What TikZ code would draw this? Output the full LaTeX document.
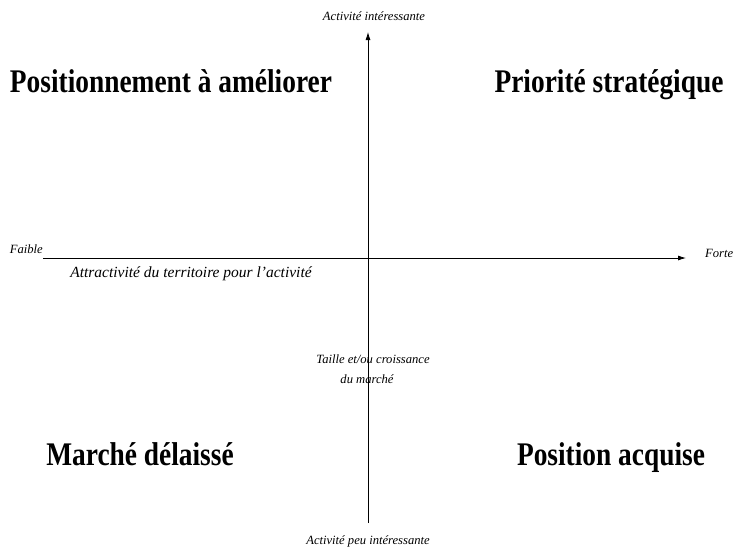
\documentclass[tikz,border=0pt]{standalone}
\usepackage{fontspec}
\setmainfont{Liberation Serif}
\newfontfamily\quadfont[FakeStretch=0.83]{Liberation Serif}
\usetikzlibrary{arrows.meta}
\begin{document}
\begin{tikzpicture}[x=1pt,y=-1pt,
  small/.style={font=\fontsize{12.6}{18}\selectfont\itshape, inner sep=0pt},
  big/.style={font=\quadfont\fontsize{33}{38}\selectfont\bfseries, inner sep=0pt, anchor=base},
  axis/.style={line width=0.8pt, -{Latex[length=8pt,width=5pt]}}]
\useasboundingbox (0,0) rectangle (736,549);
\node[small] (top) at (374,16) {Activité intéressante};
\node[small] (bot) at (368,541) {Activité peu intéressante};
\node[small, anchor=east] (faible) at (43,249) {Faible};
\node[small, anchor=west] (forte) at (705,253) {Forte};
\node[small, font=\fontsize{15.5}{18}\selectfont\itshape] (attr) at (191,274) {Attractivité du territoire pour l’activité};
\node[small] (taille1) at (373,359) {Taille et/ou croissance};
\node[small] (taille2) at (367,379) {du marché};
\coordinate (vtop) at (368,32);
\coordinate (vbot) at (368,523);
\coordinate (hl) at (43,258);
\coordinate (hr) at (686,258);
\draw[axis] (vbot) -- (vtop);
\draw[axis] (hl) -- (hr);
\node[big] (q1) at (171,92) {Positionnement à améliorer};
\node[big] (q2) at (609,92) {Priorité stratégique};
\node[big] (q3) at (140,465) {Marché délaissé};
\node[big] (q4) at (611,465) {Position acquise};
\end{tikzpicture}
\end{document}
